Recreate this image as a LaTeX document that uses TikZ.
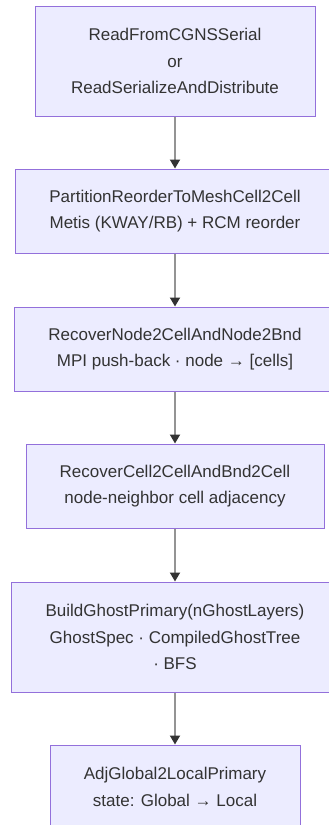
\documentclass[tikz,border=0pt]{standalone}
\usepackage{fontspec}
\setmainfont{Liberation Sans}
\usetikzlibrary{arrows.meta}
\definecolor{boxfill}{HTML}{ECECFF}
\definecolor{boxline}{HTML}{9370DB}
\definecolor{txt}{HTML}{333333}
\definecolor{edgecol}{HTML}{949494}
\tikzset{
  box/.style={draw=boxline, fill=boxfill, line width=1pt, text=txt,
    align=center, inner sep=0pt,
    font=\fontsize{17}{26.5}\selectfont},
  flow/.style={draw=edgecol, line width=1.8pt,
    -{Triangle[length=9pt,width=10pt,color=txt]}}
}
\begin{document}
\begin{tikzpicture}[x=1pt,y=-1pt]
\useasboundingbox (0,0) rectangle (329,825);
\clip (0,0) rectangle (329,825);
\node[box, minimum width=280pt, minimum height=110pt] (b1) at (175,61)
  {ReadFromCGNSSerial\\or\\ReadSerializeAndDistribute};
\node[box, minimum width=320pt, minimum height=84pt] (b2) at (175,211)
  {PartitionReorderToMeshCell2Cell\\Metis (KWAY/RB) + RCM reorder};
\node[box, minimum width=322pt, minimum height=84pt] (b3) at (175,349)
  {RecoverNode2CellAndNode2Bnd\\MPI push-back · node → [cells]};
\node[box, minimum width=298pt, minimum height=84pt] (b4) at (175,486)
  {RecoverCell2CellAndBnd2Cell\\node-neighbor cell adjacency};
\node[box, minimum width=328pt, minimum height=110pt] (b5) at (175,637)
  {BuildGhostPrimary(nGhostLayers)\\GhostSpec · CompiledGhostTree\\· BFS};
\node[box, minimum width=250pt, minimum height=84pt] (b6) at (175,787)
  {AdjGlobal2LocalPrimary\\state: Global → Local};
\draw[flow] (b1.south) -- (b2.north);
\draw[flow] (b2.south) -- (b3.north);
\draw[flow] (b3.south) -- (b4.north);
\draw[flow] (b4.south) -- (b5.north);
\draw[flow] (b5.south) -- (b6.north);
\end{tikzpicture}
\end{document}
